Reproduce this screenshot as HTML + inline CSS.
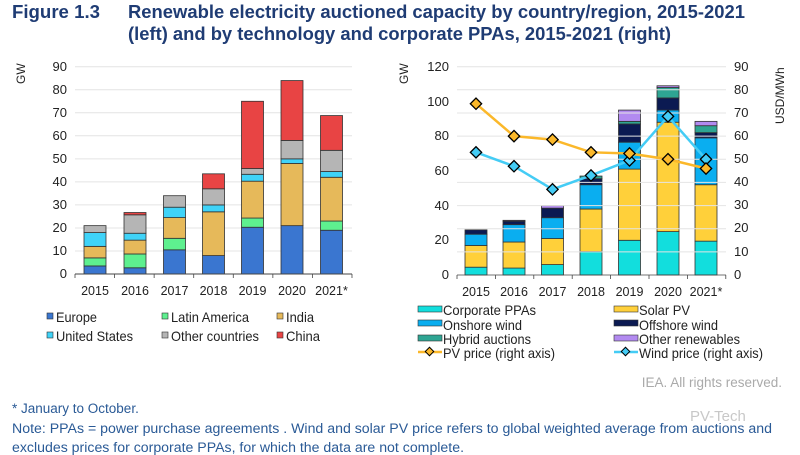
<!DOCTYPE html>
<html><head><meta charset="utf-8"><style>
body{margin:0;background:#fff;}
svg{display:block;font-family:"Liberation Sans Narrow","Liberation Sans",sans-serif;}
</style></head><body>
<svg width="800" height="455" xmlns="http://www.w3.org/2000/svg">
<g fill="#1f3c74" font-weight="bold" font-size="18">
<text x="12" y="18" textLength="88" lengthAdjust="spacingAndGlyphs">Figure 1.3</text>
<text x="128" y="18" textLength="617" lengthAdjust="spacingAndGlyphs">Renewable electricity auctioned capacity by country/region, 2015-2021</text>
<text x="128" y="40" textLength="543" lengthAdjust="spacingAndGlyphs">(left) and by technology and corporate PPAs, 2015-2021 (right)</text>
</g>
<g id="left" font-family="Liberation Sans,sans-serif" font-size="13" fill="#222">
<g stroke="#e4e4e4" stroke-width="1">
<line x1="75" x2="352" y1="66.7" y2="66.7"/><line x1="75" x2="352" y1="89.7" y2="89.7"/><line x1="75" x2="352" y1="112.8" y2="112.8"/><line x1="75" x2="352" y1="135.8" y2="135.8"/><line x1="75" x2="352" y1="158.9" y2="158.9"/><line x1="75" x2="352" y1="181.9" y2="181.9"/><line x1="75" x2="352" y1="204.9" y2="204.9"/><line x1="75" x2="352" y1="228" y2="228"/><line x1="75" x2="352" y1="251" y2="251"/>
</g>
<g text-anchor="end">
<text x="67" y="71">90</text><text x="67" y="94">80</text><text x="67" y="117">70</text><text x="67" y="140">60</text><text x="67" y="163">50</text><text x="67" y="186">40</text><text x="67" y="209">30</text><text x="67" y="232">20</text><text x="67" y="255">10</text><text x="67" y="278">0</text>
</g>
<text transform="translate(25,84) rotate(-90)" font-size="12">GW</text>
</g>
<g id="lbars" stroke="#333" stroke-width="0.8"></g>
<g id="rbars" stroke="#333" stroke-width="0.8"></g>
<g id="right" font-family="Liberation Sans,sans-serif" font-size="13" fill="#222">
<g stroke="#e4e4e4">
<line x1="457" x2="726" y1="66.7" y2="66.7"/><line x1="457" x2="726" y1="89.8" y2="89.8"/><line x1="457" x2="726" y1="113" y2="113"/><line x1="457" x2="726" y1="136.1" y2="136.1"/><line x1="457" x2="726" y1="159.3" y2="159.3"/><line x1="457" x2="726" y1="182.4" y2="182.4"/><line x1="457" x2="726" y1="205.6" y2="205.6"/><line x1="457" x2="726" y1="228.7" y2="228.7"/><line x1="457" x2="726" y1="251.9" y2="251.9"/>
</g>
<g text-anchor="end">
<text x="449" y="71">120</text><text x="449" y="106">100</text><text x="449" y="140">80</text><text x="449" y="175">60</text><text x="449" y="210">40</text><text x="449" y="244">20</text><text x="449" y="279">0</text>
</g>
<g>
<text x="734" y="71">90</text><text x="734" y="94">80</text><text x="734" y="117">70</text><text x="734" y="140">60</text><text x="734" y="163">50</text><text x="734" y="186">40</text><text x="734" y="209">30</text><text x="734" y="232">20</text><text x="734" y="256">10</text><text x="734" y="279">0</text>
</g>
<text transform="translate(408,84) rotate(-90)" font-size="12">GW</text>
<text transform="translate(784,124) rotate(-90)" font-size="12">USD/MWh</text>
</g>
<g id="lines"></g>
<g font-family="Liberation Sans,sans-serif" font-size="12.5" fill="#222">
<g id="xl"></g>
</g>
<g font-size="14" fill="#222" lengthAdjust="spacingAndGlyphs">
<rect x="47" y="313" width="6" height="6" fill="#3a76d0" stroke="#333" stroke-width=".6"/><text x="56" y="322" textLength="41" lengthAdjust="spacingAndGlyphs">Europe</text>
<rect x="162" y="313" width="6" height="6" fill="#5ef08f" stroke="#333" stroke-width=".6"/><text x="171" y="322" textLength="78" lengthAdjust="spacingAndGlyphs">Latin America</text>
<rect x="277" y="313" width="6" height="6" fill="#e6b95a" stroke="#333" stroke-width=".6"/><text x="286" y="322" textLength="28" lengthAdjust="spacingAndGlyphs">India</text>
<rect x="47" y="332" width="6" height="6" fill="#3fd3f8" stroke="#333" stroke-width=".6"/><text x="56" y="341" textLength="77" lengthAdjust="spacingAndGlyphs">United States</text>
<rect x="162" y="332" width="6" height="6" fill="#b5b5b5" stroke="#333" stroke-width=".6"/><text x="171" y="341" textLength="88" lengthAdjust="spacingAndGlyphs">Other countries</text>
<rect x="277" y="332" width="6" height="6" fill="#e84444" stroke="#333" stroke-width=".6"/><text x="286" y="341" textLength="34" lengthAdjust="spacingAndGlyphs">China</text>
<rect x="418" y="306" width="24" height="6" fill="#12dedd" stroke="#333" stroke-width=".6"/><text x="443" y="315" textLength="93" lengthAdjust="spacingAndGlyphs">Corporate PPAs</text>
<rect x="614" y="306" width="24" height="6" fill="#ffd03a" stroke="#333" stroke-width=".6"/><text x="639" y="315" textLength="51" lengthAdjust="spacingAndGlyphs">Solar PV</text>
<rect x="418" y="320" width="24" height="6" fill="#0aaef0" stroke="#333" stroke-width=".6"/><text x="443" y="330" textLength="79" lengthAdjust="spacingAndGlyphs">Onshore wind</text>
<rect x="614" y="320" width="24" height="6" fill="#0b1a52" stroke="#333" stroke-width=".6"/><text x="639" y="330" textLength="79" lengthAdjust="spacingAndGlyphs">Offshore wind</text>
<rect x="418" y="335" width="24" height="6" fill="#2ea593" stroke="#333" stroke-width=".6"/><text x="443" y="344" textLength="88" lengthAdjust="spacingAndGlyphs">Hybrid auctions</text>
<rect x="614" y="335" width="24" height="6" fill="#b28af0" stroke="#333" stroke-width=".6"/><text x="639" y="344" textLength="101" lengthAdjust="spacingAndGlyphs">Other renewables</text>
<line x1="418" x2="442" y1="352" y2="352" stroke="#fbb82a" stroke-width="2.5"/><rect x="426.5" y="348.5" width="6" height="6" transform="rotate(45 429.5 351.5)" fill="#fbb82a" stroke="#000" stroke-width="1"/><text x="443" y="358" textLength="112" lengthAdjust="spacingAndGlyphs">PV price (right axis)</text>
<line x1="614" x2="638" y1="352" y2="352" stroke="#44ccf5" stroke-width="2.5"/><rect x="622.5" y="348.5" width="6" height="6" transform="rotate(45 625.5 351.5)" fill="#44ccf5" stroke="#000" stroke-width="1"/><text x="639" y="358" textLength="124" lengthAdjust="spacingAndGlyphs">Wind price (right axis)</text>
</g>
<g font-family="Liberation Sans,sans-serif" font-size="13.5">
<text x="782" y="387" text-anchor="end" fill="#aaa">IEA. All rights reserved.</text>
<text x="12" y="413" fill="#2a5a96">* January to October.</text>
<text x="12" y="433" fill="#2a5a96" textLength="760" lengthAdjust="spacingAndGlyphs">Note: PPAs = power purchase agreements . Wind and solar PV price refers to global weighted average from auctions and</text>
<text x="12" y="452" fill="#2a5a96" textLength="452" lengthAdjust="spacingAndGlyphs">excludes prices for corporate PPAs, for which the data are not complete.</text>
<text x="690" y="421" fill="#c8c8c8" font-size="15">PV-Tech</text>
</g>
<script>
const NS="http://www.w3.org/2000/svg";
function el(p,t,a){const e=document.createElementNS(NS,t);for(const k in a)e.setAttribute(k,a[k]);p.appendChild(e);return e;}
const years=["2015","2016","2017","2018","2019","2020","2021*"];
const lb=document.getElementById("lbars");
const lc=["#3a76d0","#5ef08f","#e6b95a","#3fd3f8","#b5b5b5","#e84444"];
const ld=[[3.5,3.5,5,6,3,0],[2.7,6,6,3,8,1],[10.5,5,9,4.5,5,0],[8,0,19,3,7,6.5],[20.3,4,16,3,2.5,29.2],[21,0,27,2,8,26],[19,4,19,2.5,9.2,15.1]];
const lx=[95,135,174.5,213.5,252.5,292,331.5];
const ly=v=>274-v*2.303;
const xl=document.getElementById("xl");
ld.forEach((d,i)=>{let c=0;d.forEach((v,j)=>{if(v<=0)return;el(lb,"rect",{x:lx[i]-11,y:ly(c+v),width:22,height:v*2.303,fill:lc[j]});c+=v;});
 const t=el(xl,"text",{x:lx[i],y:295,"text-anchor":"middle"});t.textContent=years[i];});
el(lb,"line",{x1:75,x2:352,y1:274,y2:274,stroke:"#444","stroke-width":1});
for(let k=0;k<8;k++)el(lb,"line",{x1:75+k*39.57,x2:75+k*39.57,y1:274,y2:278,stroke:"#444"});
const rb=document.getElementById("rbars");
const rc=["#12dedd","#ffd03a","#0aaef0","#0b1a52","#2ea593","#b28af0"];
const rd=[[4.5,12.5,6.5,2.5,0,0],[4,15,10,2,0,0.5],[6,15,12,5.5,0,1.5],[13.5,24.5,14,3.5,1.5,0],[20,41,15.5,10.5,1.5,6.5],[25,63,7,7,6,1],[19.5,32.5,27,3,4,2.5]];
const rx=[476,514,552.5,591,629.5,668,706];
const ry=v=>275-v*1.736;
rd.forEach((d,i)=>{let c=0;d.forEach((v,j)=>{if(v<=0)return;el(rb,"rect",{x:rx[i]-11,y:ry(c+v),width:22,height:v*1.736,fill:rc[j]});c+=v;});
 const t=el(xl,"text",{x:rx[i],y:296,"text-anchor":"middle"});t.textContent=years[i];});
el(rb,"line",{x1:457,x2:726,y1:275,y2:275,stroke:"#444"});
for(let k=0;k<8;k++)el(rb,"line",{x1:457+k*38.4,x2:457+k*38.4,y1:275,y2:279,stroke:"#444"});
const L=document.getElementById("lines");
const py=v=>275-v*2.3148;
function series(vals,col){el(L,"polyline",{points:vals.map((v,i)=>rx[i]+","+py(v)).join(" "),fill:"none",stroke:col,"stroke-width":2.5});
 vals.forEach((v,i)=>el(L,"rect",{x:rx[i]-4,y:py(v)-4,width:8,height:8,fill:col,stroke:"#000","stroke-width":1.3,transform:`rotate(45 ${rx[i]} ${py(v)})`}));}
series([53,47,37,43,49.5,68.5,50],"#44ccf5");
series([74,60,58.5,53,52.5,50,46],"#fbb82a");
</script>
</svg>
</body></html>
